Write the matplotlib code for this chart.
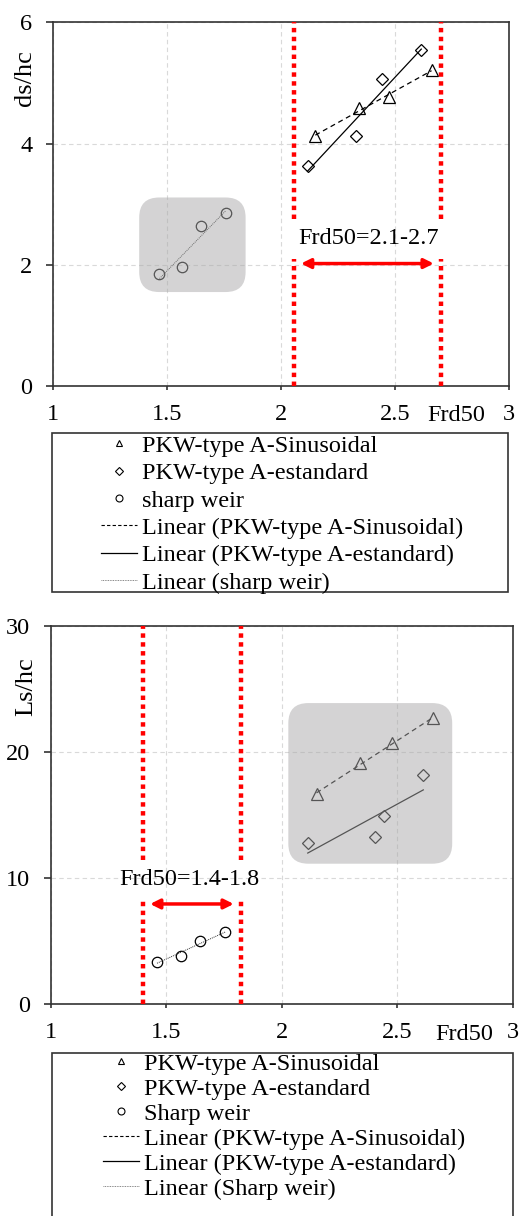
import numpy as np
import matplotlib
matplotlib.use("Agg")
import matplotlib.pyplot as plt
from matplotlib.lines import Line2D
from matplotlib.patches import FancyBboxPatch, Rectangle

plt.rcParams['font.family'] = ['Liberation Serif', 'DejaVu Serif']
plt.rcParams['font.size'] = 17.5

# top chart: ds/hc vs Frd50
ds_sin_x = [2.15, 2.34, 2.475, 2.66]
ds_sin_y = [4.12, 4.59, 4.77, 5.21]
ds_std_x = [2.116, 2.328, 2.441, 2.615]
ds_std_y = [3.63, 4.13, 5.06, 5.54]
ds_sharp_x = [1.466, 1.565, 1.650, 1.758]
ds_sharp_y = [1.84, 1.96, 2.64, 2.86]

# bottom chart: Ls/hc vs Frd50
ls_sin_x = [2.15, 2.338, 2.476, 2.655]
ls_sin_y = [16.66, 19.1, 20.68, 22.66]
ls_std_x = [2.112, 2.401, 2.440, 2.612]
ls_std_y = [12.78, 13.26, 14.94, 18.14]
ls_sharp_x = [1.460, 1.564, 1.646, 1.755]
ls_sharp_y = [3.38, 3.80, 5.04, 5.70]

x_ticks = [1, 1.5, 2, 2.5, 3]
x_tick_labels = ['1', '1.5', '2', '2.5', '3']
ds_ticks = [0, 2, 4, 6]
ls_ticks = [0, 10, 20, 30]

labels_top = ['PKW-type A-Sinusoidal', 'PKW-type A-estandard', 'sharp weir',
              'Linear (PKW-type A-Sinusoidal)', 'Linear (PKW-type A-estandard)',
              'Linear (sharp weir)']
labels_bottom = ['PKW-type A-Sinusoidal', 'PKW-type A-estandard', 'Sharp weir',
                 'Linear (PKW-type A-Sinusoidal)', 'Linear (PKW-type A-estandard)',
                 'Linear (Sharp weir)']

W, H = 521, 1216
FS = 17.5
fig = plt.figure(figsize=(W / 100, H / 100), dpi=100)
ax1 = fig.add_axes([53.3 / W, 1 - 386 / H, 455.7 / W, 363.7 / H])
ax2 = fig.add_axes([50.7 / W, 1 - 1004.3 / H, 462.3 / W, 378.6 / H])

spine_col = '#333333'


def trend(ax, x, y, **kw):
    k, b = np.polyfit(x, y, 1)
    xs = np.array([min(x), max(x)])
    ax.plot(xs, k * xs + b, **kw)


def draw(ax, sin_x, sin_y, std_x, std_y, sh_x, sh_y, ymax, yticks):
    ax.set_xlim(1, 3)
    ax.set_ylim(0, ymax)
    ax.set_xticks(x_ticks)
    ax.set_xticklabels(x_tick_labels)
    ax.set_yticks(yticks)
    ax.set_axisbelow(True)
    ax.grid(True, color='#d9d9d9', ls=(0, (4, 3)), lw=0.8)
    for s in ax.spines.values():
        s.set_color(spine_col)
        s.set_linewidth(1.2)
    ax.tick_params(axis='y', length=5, width=1.2, color=spine_col, pad=10, labelsize=FS)
    ax.tick_params(axis='x', length=3, width=1.2, color=spine_col, pad=10, labelsize=FS)

    mk = dict(ls='none', mfc='none', mec='black', mew=0.9, zorder=3)
    ax.plot(sin_x, sin_y, marker='^', ms=8.5, **mk)
    ax.plot(std_x, std_y, marker='D', ms=6, **mk)
    ax.plot(sh_x, sh_y, marker='o', ms=7.5, **mk)
    trend(ax, sin_x, sin_y, color='black', ls=(0, (4, 3)), lw=0.9, zorder=3)
    trend(ax, std_x, std_y, color='black', ls='-', lw=0.9, zorder=3)
    trend(ax, sh_x, sh_y, color='#303030', ls=(0, (1, 1)), lw=0.7, zorder=3)


def gray_box(ax, x0, y0, x1, y1, radius_px=20):
    bb = ax.get_window_extent()
    xl, yl = ax.get_xlim(), ax.get_ylim()
    px_x = bb.width / (xl[1] - xl[0])
    px_y = bb.height / (yl[1] - yl[0])
    box = FancyBboxPatch((x0, y0), x1 - x0, y1 - y0,
                         boxstyle="round,pad=0,rounding_size=%f" % (radius_px / px_x),
                         mutation_aspect=px_x / px_y,
                         fc='#aaa9aa', ec='none', alpha=0.5, zorder=5)
    ax.add_patch(box)


def red_range(ax, xa, xb, gap_lo, gap_hi, ymax, arrow_y, text, text_x, text_y):
    for xv in (xa, xb):
        ax.vlines(xv, gap_hi, ymax, colors='red', lw=3.2, ls=(0, (1, 1)), zorder=4)
        ax.vlines(xv, 0, gap_lo, colors='red', lw=3.2, ls=(0, (1, 1)), zorder=4)
    ax.annotate('', xy=(xb - 0.03, arrow_y), xytext=(xa + 0.03, arrow_y),
                arrowprops=dict(arrowstyle='<|-|>', color='red', lw=2.5,
                                mutation_scale=14, shrinkA=0, shrinkB=0), zorder=4)
    ax.text(text_x, text_y, text, ha='center', va='center', fontsize=FS, zorder=4)


draw(ax1, ds_sin_x, ds_sin_y, ds_std_x, ds_std_y, ds_sharp_x, ds_sharp_y, 6, ds_ticks)
draw(ax2, ls_sin_x, ls_sin_y, ls_std_x, ls_std_y, ls_sharp_x, ls_sharp_y, 30, ls_ticks)

gray_box(ax1, 1.377, 1.55, 1.844, 3.11)
gray_box(ax2, 2.028, 11.14, 2.737, 23.87)

red_range(ax1, 2.057, 2.70, 2.09, 2.75, 6, 2.02, 'Frd50=2.1-2.7', 2.385, 2.43)
red_range(ax2, 1.40, 1.822, 8.45, 11.43, 30, 7.95, 'Frd50=1.4-1.8', 1.60, 9.85)

ax1.set_ylabel('ds/hc', fontsize=19, va='center')
ax1.yaxis.set_label_coords(-0.062, 0.847)
ax2.set_ylabel('Ls/hc', fontsize=19, va='center')
ax2.yaxis.set_label_coords(-0.053, 0.839)
ax1.text(2.77, -0.08, 'Frd50', transform=ax1.get_xaxis_transform(),
         ha='center', va='center', fontsize=FS)
ax2.text(2.79, -0.081, 'Frd50', transform=ax2.get_xaxis_transform(),
         ha='center', va='center', fontsize=FS)

# legends
handles = [
    Line2D([], [], ls='none', marker='^', ms=5, mfc='none', mec='black', mew=0.8),
    Line2D([], [], ls='none', marker='D', ms=4, mfc='none', mec='black', mew=0.8),
    Line2D([], [], ls='none', marker='o', ms=5, mfc='none', mec='black', mew=0.8),
    Line2D([], [], color='black', ls=(0, (3, 2)), lw=0.8),
    Line2D([], [], color='black', ls='-', lw=0.9),
    Line2D([], [], color='#606060', ls=(0, (1, 1)), lw=0.6),
]

fig.add_artist(Rectangle((51.7 / W, 1 - 592.3 / H), 456.6 / W, 159.6 / H,
                         transform=fig.transFigure, fill=False, ec=spine_col, lw=1.2))
fig.legend(handles, labels_top, loc='center', bbox_to_anchor=(282 / W, 1 - 514.2 / H),
           frameon=False, fontsize=FS, handlelength=1.5, handletextpad=0.2,
           labelspacing=0.22, borderpad=0)

fig.add_artist(Rectangle((52 / W, -0.05), 461 / W, 0.05 + 1 - 1053 / H,
                         transform=fig.transFigure, fill=False, ec=spine_col, lw=1.2))
fig.legend(handles, labels_bottom, loc='center', bbox_to_anchor=(284 / W, 1 - 1126.3 / H),
           frameon=False, fontsize=FS, handlelength=1.5, handletextpad=0.2,
           labelspacing=0.12, borderpad=0)

fig.savefig('out.png', dpi=100)
